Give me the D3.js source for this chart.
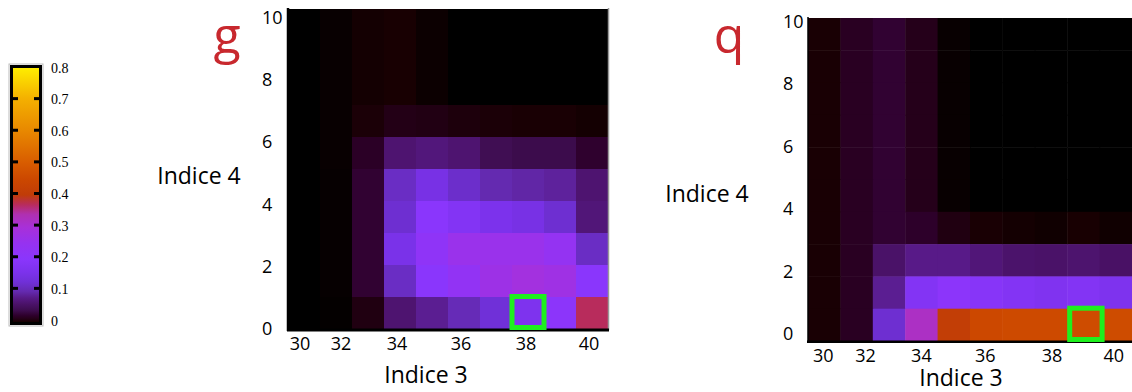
<!DOCTYPE html>
<html><head><meta charset="utf-8">
<script src="https://cdn.jsdelivr.net/npm/d3@7"></script>
<style>
html,body{margin:0;padding:0;background:#fff;}
svg{display:block;}
</style></head>
<body>
<svg id="chart" width="1132" height="392"></svg>
<script>
// ---- data ----
const cols = [30, 32, 33, 34, 35, 36, 37, 38, 39, 40];        // Indice 3 categories
const rows = [9, 8, 7, 6, 5, 4, 3, 2, 1, 0];                    // Indice 4 rows, top to bottom
const xTickLabels = [30, 32, 34, 36, 38, 40];
const yTickLabels = [0, 2, 4, 6, 8, 10];
const cbTicks = [0, 0.1, 0.2, 0.3, 0.4, 0.5, 0.6, 0.7, 0.8];

// panel g values, rows top (9) -> bottom (0)
const gValues = [
  [0, 0.002, 0.005, 0.006, 0.003, 0, 0, 0, 0, 0],
  [0, 0.002, 0.005, 0.006, 0.003, 0, 0, 0, 0, 0],
  [0, 0.002, 0.005, 0.006, 0.003, 0, 0, 0, 0, 0],
  [0, 0.002, 0.008, 0.014, 0.013, 0.010, 0.008, 0.007, 0.007, 0.005],
  [0, 0.002, 0.022, 0.065, 0.072, 0.065, 0.045, 0.040, 0.040, 0.026],
  [0, 0.0015, 0.028, 0.115, 0.150, 0.120, 0.100, 0.095, 0.090, 0.065],
  [0, 0.0015, 0.028, 0.125, 0.200, 0.180, 0.160, 0.150, 0.125, 0.070],
  [0, 0.0015, 0.028, 0.155, 0.220, 0.260, 0.260, 0.260, 0.240, 0.115],
  [0, 0.0015, 0.028, 0.115, 0.200, 0.235, 0.270, 0.285, 0.275, 0.200],
  [0, 0.001, 0.012, 0.065, 0.085, 0.105, 0.130, 0.165, 0.210, 0.370]
];
// panel q values, rows top (9) -> bottom (0)
const qValues = [
  [0.007, 0.020, 0.028, 0.016, 0.002, 0, 0, 0, 0, 0],
  [0.007, 0.020, 0.028, 0.016, 0.002, 0, 0, 0, 0, 0],
  [0.007, 0.020, 0.028, 0.016, 0.002, 0, 0, 0, 0, 0],
  [0.007, 0.020, 0.028, 0.016, 0.002, 0, 0, 0, 0, 0],
  [0.007, 0.020, 0.028, 0.016, 0.002, 0, 0, 0, 0, 0],
  [0.007, 0.020, 0.028, 0.016, 0.002, 0, 0, 0, 0, 0],
  [0.007, 0.020, 0.028, 0.024, 0.012, 0.007, 0.005, 0.004, 0.006, 0.004],
  [0.007, 0.020, 0.060, 0.080, 0.080, 0.070, 0.062, 0.060, 0.064, 0.058],
  [0.007, 0.020, 0.085, 0.180, 0.210, 0.190, 0.180, 0.170, 0.180, 0.165],
  [0.007, 0.020, 0.125, 0.320, 0.410, 0.450, 0.455, 0.455, 0.460, 0.460]
];
const gHighlight = {col: 38, row: 0};
const qHighlight = {col: 39, row: 0};

// ---- colormap ----
const cmapStops = [0, 0.006, 0.015, 0.025, 0.04, 0.06, 0.08, 0.10, 0.13, 0.16, 0.20, 0.25, 0.30, 0.34, 0.37, 0.40, 0.45, 0.50, 0.60, 0.70, 0.80];
const cmapColors = ["#000000", "#180002", "#240018", "#2e002c", "#3c0c4c", "#4a1268", "#581a88", "#642ab0", "#7030d8", "#7c32ec", "#8a36fc", "#9632f0", "#a830d8", "#b030b0", "#b82c5c", "#c03c08", "#cc4800", "#d85c00", "#e88800", "#f4b000", "#fff000"];
const color = d3.scaleLinear().domain(cmapStops).range(cmapColors).interpolate(d3.interpolateRgb).clamp(true);

const svg = d3.select("#chart");
const FONT = "'Open Sans', 'Noto Sans', sans-serif";

// ---- colorbar ----
const cb = {x0: 10, x1: 42, y0: 65, y1: 325};
const cbScale = d3.scaleLinear().domain([0, 0.8]).range([320, 67]);
const defs = svg.append("defs");
const grad = defs.append("linearGradient").attr("id", "cbgrad")
  .attr("x1", 0).attr("y1", 1).attr("x2", 0).attr("y2", 0);
grad.selectAll("stop").data(cmapStops).join("stop")
  .attr("offset", d => d / 0.8)
  .attr("stop-color", d => color(d));
svg.append("rect").attr("x", cb.x0 - 1).attr("y", cb.y0 - 1).attr("width", cb.x1 - cb.x0 + 2).attr("height", cb.y1 - cb.y0 + 2)
  .attr("fill", "none").attr("stroke", "#bbb").attr("stroke-width", 1);
svg.append("rect").attr("x", cb.x0 + 1.5).attr("y", cb.y0 + 1.5).attr("width", cb.x1 - cb.x0 - 3).attr("height", cb.y1 - cb.y0 - 3)
  .attr("fill", "url(#cbgrad)").attr("stroke", "#000").attr("stroke-width", 3);
const cbInner = cbTicks.filter(t => t > 0 && t < 0.8);
svg.selectAll(".cbtl").data(cbInner).join("rect").attr("class", "cbtl")
  .attr("x", cb.x0 + 2).attr("y", d => cbScale(d) - 1.5).attr("width", 6).attr("height", 3).attr("fill", "#000");
svg.selectAll(".cbtr").data(cbInner).join("rect").attr("class", "cbtr")
  .attr("x", cb.x1 - 8).attr("y", d => cbScale(d) - 1.5).attr("width", 6).attr("height", 3).attr("fill", "#000");
svg.selectAll(".cblab").data(cbTicks).join("text").attr("class", "cblab")
  .attr("x", 51).attr("y", d => cbScale(d) + 1)
  .attr("dominant-baseline", "central")
  .attr("font-family", "'Liberation Serif', 'DejaVu Serif', serif").attr("font-size", 14)
  .attr("fill", "#000")
  .text(d => d3.format("")(d));

// ---- panels ----
function panel(cfg) {
  const gEl = svg.append("g");
  const x = d3.scaleBand().domain(cols).range([cfg.x0, cfg.x1]);
  const y = d3.scaleBand().domain(rows).range([cfg.y0, cfg.y1]);
  const yAx = d3.scaleLinear().domain([0, 10]).range(cfg.yAxRange);

  const cells = [];
  cfg.values.forEach((r, ri) => r.forEach((v, ci) => cells.push({col: cols[ci], row: rows[ri], v})));
  gEl.selectAll(".cell").data(cells).join("rect").attr("class", "cell")
    .attr("x", d => x(d.col)).attr("y", d => y(d.row))
    .attr("width", x.bandwidth() + 0.5).attr("height", y.bandwidth() + 0.5)
    .attr("fill", d => color(d.v));

  // frame
  if (cfg.rightLine) {
    gEl.append("line").attr("x1", cfg.x1 + 0.5).attr("x2", cfg.x1 + 0.5).attr("y1", cfg.y0 - 1).attr("y2", cfg.y1 + 1)
      .attr("stroke", "#999").attr("stroke-width", 1.5);
  }
  gEl.append("line").attr("x1", cfg.x0).attr("x2", cfg.x0).attr("y1", cfg.y0 - 1).attr("y2", cfg.y1 + 2)
    .attr("stroke", "#000").attr("stroke-width", cfg.leftW);
  gEl.append("line").attr("x1", cfg.x0 - 1).attr("x2", cfg.x1 + 1).attr("y1", cfg.y1 + cfg.bottomW / 2 - 0.5).attr("y2", cfg.y1 + cfg.bottomW / 2 - 0.5)
    .attr("stroke", "#000").attr("stroke-width", cfg.bottomW);

  // highlight box
  const h = cfg.highlight;
  gEl.append("rect").attr("x", x(h.col) + cfg.hlDx).attr("y", y(h.row) - 0.5)
    .attr("width", x.bandwidth()).attr("height", y.bandwidth() - 1)
    .attr("fill", "none").attr("stroke", "#1ef01e").attr("stroke-width", 5);

  // x tick labels
  gEl.selectAll(".xt").data(xTickLabels).join("text").attr("class", "xt")
    .attr("x", d => x(d) + x.bandwidth() / 2 + (cfg.xOff[d] || 0)).attr("y", cfg.xLabY)
    .attr("text-anchor", "middle").attr("dominant-baseline", "central")
    .attr("font-family", FONT).attr("font-size", 18).attr("fill", "#000")
    .text(d => d);
  // y tick labels
  gEl.selectAll(".yt").data(yTickLabels).join("text").attr("class", "yt")
    .attr("x", cfg.yLabX).attr("y", d => yAx(d))
    .attr("text-anchor", "start").attr("dominant-baseline", "central")
    .attr("font-family", FONT).attr("font-size", 18).attr("fill", "#000")
    .text(d => d);
  // axis titles
  gEl.append("text").attr("x", cfg.xTitle[0]).attr("y", cfg.xTitle[1])
    .attr("text-anchor", "middle").attr("dominant-baseline", "central")
    .attr("font-family", FONT).attr("font-size", 23).attr("fill", "#000").text("Indice 3");
  gEl.append("text").attr("x", cfg.yTitle[0]).attr("y", cfg.yTitle[1])
    .attr("text-anchor", "middle").attr("dominant-baseline", "central")
    .attr("font-family", FONT).attr("font-size", 23).attr("fill", "#000").text("Indice 4");
  // panel letter
  gEl.append("text").attr("x", cfg.letterPos[0]).attr("y", cfg.letterPos[1])
    .attr("text-anchor", "middle")
    .attr("font-family", FONT).attr("font-size", 50).attr("fill", "#c8282e").text(cfg.letter);
}

panel({
  values: gValues, highlight: gHighlight, letter: "g",
  x0: 288, x1: 608, y0: 9, y1: 329,
  yAxRange: [328, 17], yLabX: 262, xLabY: 343,
  xOff: {30: -4, 32: 5, 34: -3, 36: -3, 38: -2, 40: -3},
  xTitle: [426, 374], yTitle: [199, 175], letterPos: [227, 53],
  leftW: 2.5, bottomW: 3, rightLine: true, hlDx: 0
});
panel({
  values: qValues, highlight: qHighlight, letter: "q",
  x0: 808, x1: 1132, y0: 18, y1: 341,
  yAxRange: [333, 21], yLabX: 783, xLabY: 355,
  xOff: {30: -1, 32: 9, 34: 0, 36: -1, 38: 1, 40: -2},
  xTitle: [961, 377], yTitle: [707, 193], letterPos: [729, 53],
  leftW: 1.5, bottomW: 2.5, rightLine: false, hlDx: 2.5
});
</script>
</body></html>
